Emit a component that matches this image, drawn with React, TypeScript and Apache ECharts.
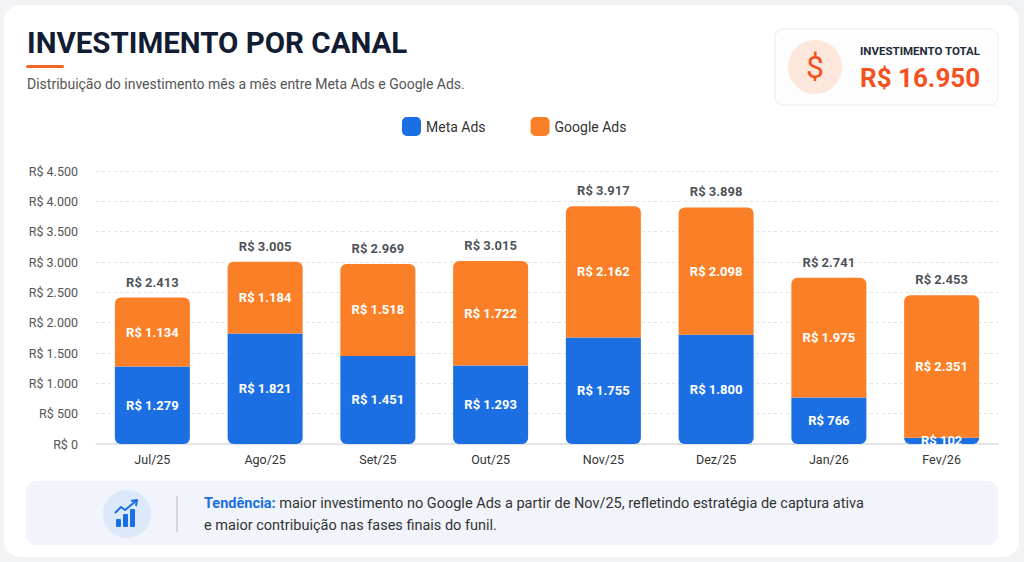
import React, { useEffect, useRef } from "react";
import * as echarts from "echarts";

const categories = ["Jul/25", "Ago/25", "Set/25", "Out/25", "Nov/25", "Dez/25", "Jan/26", "Fev/26"];
const metaAds = [1279, 1821, 1451, 1293, 1755, 1800, 766, 102];
const googleAds = [1134, 1184, 1518, 1722, 2162, 2098, 1975, 2351];
const totals = [2413, 3005, 2969, 3015, 3917, 3898, 2741, 2453];
const totalInvest = "R$ 16.950";

const BLUE = "#1b6fe3";
const ORANGE = "#fb7f26";
const FONT = "Roboto, 'Noto Sans', sans-serif";

const fmt = (v: number) => "R$ " + String(v).replace(/\B(?=(\d{3})+(?!\d))/g, ".");

export default function App() {
  const ref = useRef<HTMLDivElement>(null);
  useEffect(() => {
    document.body.style.margin = "0";
    const chart = echarts.init(ref.current!, null, { renderer: "svg" });
    chart.setOption({
      animation: false,
      backgroundColor: "#f2f3f5",
      textStyle: { fontFamily: FONT },
      legend: {
        data: ["Meta Ads", "Google Ads"],
        top: 112,
        left: 397,
        itemWidth: 19,
        itemHeight: 19,
        itemGap: 45,
        icon: "roundRect",
        textStyle: { fontSize: 14, color: "#333", fontFamily: FONT },
      },
      grid: { left: 96, right: 26, top: 171, bottom: 118 },
      xAxis: {
        type: "category",
        data: categories,
        axisTick: { show: false },
        axisLine: { lineStyle: { color: "#dcdfe4", width: 1.5 } },
        axisLabel: { color: "#333", fontSize: 12.5, margin: 9, fontFamily: FONT },
      },
      yAxis: {
        type: "value",
        min: 0,
        max: 4500,
        interval: 500,
        axisLabel: { color: "#555", fontSize: 12.5, margin: 18, formatter: (v: number) => fmt(v), fontFamily: FONT },
        splitLine: { lineStyle: { color: "#e2e4e8", type: [3, 3] } },
        axisLine: { show: false },
        axisTick: { show: false },
      },
      series: [
        {
          name: "Meta Ads",
          type: "bar",
          stack: "total",
          data: metaAds,
          barWidth: 75,
          itemStyle: { color: BLUE, borderRadius: [0, 0, 6, 6] },
          label: {
            show: true,
            position: "inside",
            color: "#fff",
            fontWeight: "bold",
            fontSize: 13,
            formatter: (p: any) => fmt(p.value),
          },
        },
        {
          name: "Google Ads",
          type: "bar",
          stack: "total",
          data: googleAds,
          barWidth: 75,
          itemStyle: { color: ORANGE, borderRadius: [6, 6, 0, 0] },
          label: {
            show: true,
            position: "inside",
            color: "#fff",
            fontWeight: "bold",
            fontSize: 13,
            formatter: (p: any) => fmt(p.value),
          },
        },
        {
          name: "Total",
          type: "scatter",
          data: totals,
          symbolSize: 0.1,
          itemStyle: { color: "transparent" },
          label: {
            show: true,
            position: "top",
            distance: 9,
            color: "#1a1f2b",
            fontWeight: "bold",
            fontSize: 13,
            formatter: (p: any) => fmt(p.value),
          },
          z: 5,
        },
      ],
      graphic: [
        {
          type: "rect",
          shape: { x: 4, y: 5, width: 1015, height: 552, r: 16 },
          style: { fill: "#ffffff" },
          z: -10,
          silent: true,
        },
        {
          type: "text",
          left: 27,
          top: 28,
          style: { text: "INVESTIMENTO POR CANAL", font: `bold 29.5px ${FONT}`, fill: "#121c33" },
        },
        {
          type: "rect",
          shape: { x: 26, y: 65, width: 38, height: 3, r: 1.5 },
          style: { fill: "#f26522" },
        },
        {
          type: "text",
          left: 27,
          top: 77,
          style: { text: "Distribuição do investimento mês a mês entre Meta Ads e Google Ads.", font: `14px ${FONT}`, fill: "#555" },
        },
        {
          type: "rect",
          shape: { x: 775, y: 29, width: 223, height: 76, r: 8 },
          style: { fill: "#fdfdfd", stroke: "#ececec", lineWidth: 1 },
        },
        {
          type: "circle",
          shape: { cx: 815, cy: 67, r: 27 },
          style: { fill: "#fde6dc" },
        },
        {
          type: "text",
          x: 815,
          y: 67,
          style: { text: "$", font: `32px ${FONT}`, fill: "#f4511e", align: "center", verticalAlign: "middle" },
        },
        {
          type: "text",
          left: 860,
          top: 45,
          style: { text: "INVESTIMENTO TOTAL", font: `bold 11.5px ${FONT}`, fill: "#222a38" },
        },
        {
          type: "text",
          left: 860,
          top: 65,
          style: { text: totalInvest, font: `bold 26px ${FONT}`, fill: "#f4511e" },
        },
        {
          type: "rect",
          shape: { x: 26, y: 481, width: 972, height: 64, r: 10 },
          style: { fill: "#f1f5fb" },
        },
        {
          type: "circle",
          shape: { cx: 127, cy: 514, r: 24 },
          style: { fill: "#dce9fb" },
        },
        { type: "rect", shape: { x: 116, y: 519, width: 5, height: 8, r: 1 }, style: { fill: BLUE } },
        { type: "rect", shape: { x: 123, y: 514, width: 5, height: 13, r: 1 }, style: { fill: BLUE } },
        { type: "rect", shape: { x: 130, y: 509, width: 5, height: 18, r: 1 }, style: { fill: BLUE } },
        {
          type: "polyline",
          shape: { points: [[115, 513], [121, 507], [125, 510], [136, 501]] },
          style: { stroke: BLUE, lineWidth: 2, fill: "none", lineJoin: "round" },
        },
        {
          type: "polyline",
          shape: { points: [[131, 501], [137, 500], [136, 506]] },
          style: { stroke: BLUE, lineWidth: 2, fill: "none", lineJoin: "round" },
        },
        {
          type: "line",
          shape: { x1: 177, y1: 496, x2: 177, y2: 532 },
          style: { stroke: "#c9ccd2", lineWidth: 1.5 },
        },
        {
          type: "text",
          left: 204,
          top: 496,
          style: {
            text: "{b|Tendência:} maior investimento no Google Ads a partir de Nov/25, refletindo estratégia de captura ativa",
            font: `14.5px ${FONT}`,
            fill: "#333",
            rich: {
              b: { font: `bold 14.5px ${FONT}`, fill: BLUE },
            },
          },
        },
        {
          type: "text",
          left: 204,
          top: 518,
          style: { text: "e maior contribuição nas fases finais do funil.", font: `14.5px ${FONT}`, fill: "#333" },
        },
      ],
    });
    return () => chart.dispose();
  }, []);
  return <div ref={ref} style={{ width: 1024, height: 562 }} />;
}
